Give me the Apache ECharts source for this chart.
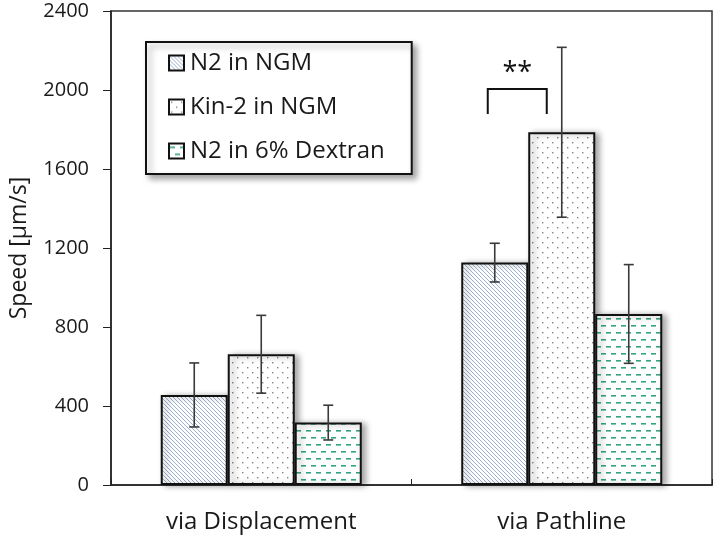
<!DOCTYPE html>
<html>
<head>
<meta charset="utf-8">
<script src="https://cdn.jsdelivr.net/npm/echarts@6/dist/echarts.min.js"></script>
<style>html,body{margin:0;padding:0;background:#fff}#c{width:720px;height:538px}</style>
</head>
<body>
<div id="c"></div>
<script>
// ---- data ----
var categories = ['via Displacement', 'via Pathline'];
var seriesNames = ['N2 in NGM', 'Kin-2 in NGM', 'N2 in 6% Dextran'];
var n2NGM = [456, 1126];
var n2NGMErr = [162, 98];
var kin2NGM = [662, 1786];
var kin2NGMErr = [197, 430];
var n2Dextran = [316, 866];
var n2DextranErr = [88, 250];
var yTicks = [0, 400, 800, 1200, 1600, 2000, 2400];
// significance bracket: [category index, series A, series B, top value, leg bottom value, label]
var sigBracket = [[1, 0, 1, 2005, 1878, '**']];

// ---- patterns ----
function makeTile(w, h, draw) {
  var c = document.createElement('canvas');
  c.width = w; c.height = h;
  var ctx = c.getContext('2d');
  ctx.fillStyle = '#ffffff';
  ctx.fillRect(0, 0, w, h);
  draw(ctx);
  return { image: c, repeat: 'repeat' };
}
var hatch = makeTile(8, 8, function (ctx) {
  ctx.strokeStyle = '#93a7c6';
  ctx.lineWidth = 0.9;
  for (var k = -2; k <= 2; k++) {
    ctx.beginPath();
    ctx.moveTo(k * 4 - 4, -4);
    ctx.lineTo(k * 4 + 12, 12);
    ctx.stroke();
  }
});
var dots = makeTile(10, 10, function (ctx) {
  ctx.fillStyle = '#8c7d80';
  ctx.fillRect(2, 2, 1.4, 1.4);
  ctx.fillRect(7, 7, 1.4, 1.4);
});
var dashes = makeTile(10, 14, function (ctx) {
  ctx.fillStyle = '#33a383';
  ctx.fillRect(1, 3, 5, 1.6);
  ctx.fillRect(6, 10, 4, 1.6);
  ctx.fillRect(0, 10, 1, 1.6);
});
var fills = [hatch, dots, dashes];
var values = [n2NGM, kin2NGM, n2Dextran];
var errs = [n2NGMErr, kin2NGMErr, n2DextranErr];

var BAR_W = 67;
var FONT = '"Open Sans", sans-serif';
var TXT = '#1a1a1a';

var series = [];
seriesNames.forEach(function (name, i) {
  series.push({
    name: name,
    type: 'bar',
    barWidth: BAR_W,
    barGap: '0%',
    data: values[i],
    itemStyle: {
      color: fills[i],
      borderColor: '#111',
      borderWidth: 2,
      shadowColor: 'rgba(0,0,0,0.35)',
      shadowBlur: 6,
      shadowOffsetX: 4,
      shadowOffsetY: 1
    },
    emphasis: { disabled: true },
    z: 2
  });
});

// error bars
var errData = [];
values.forEach(function (vals, si) {
  vals.forEach(function (v, ci) {
    errData.push([ci, v - errs[si][ci], v + errs[si][ci], si]);
  });
});
series.push({
  type: 'custom',
  name: 'err',
  data: errData,
  z: 5,
  silent: true,
  renderItem: function (params, api) {
    var ci = api.value(0), lo = api.value(1), hi = api.value(2), si = api.value(3);
    var off = (si - 1) * BAR_W;
    var pLo = api.coord([ci, lo]);
    var pHi = api.coord([ci, hi]);
    var x = pLo[0] + off;
    var st = { stroke: '#3a3a3a', lineWidth: 1.6 };
    return {
      type: 'group',
      children: [
        { type: 'line', shape: { x1: x, y1: pLo[1], x2: x, y2: pHi[1] }, style: st },
        { type: 'line', shape: { x1: x - 5, y1: pLo[1], x2: x + 5, y2: pLo[1] }, style: st },
        { type: 'line', shape: { x1: x - 5, y1: pHi[1], x2: x + 5, y2: pHi[1] }, style: st }
      ]
    };
  }
});

// significance bracket
series.push({
  type: 'custom',
  name: 'sig',
  data: sigBracket.map(function (d) { return d.slice(0, 5); }),
  z: 6,
  silent: true,
  renderItem: function (params, api) {
    var ci = api.value(0), a = api.value(1), b = api.value(2), top = api.value(3), bot = api.value(4);
    var pTop = api.coord([ci, top]);
    var pBot = api.coord([ci, bot]);
    var xa = pTop[0] + (a - 1) * BAR_W - 7;
    var xb = pTop[0] + (b - 1) * BAR_W - 15;
    var st = { stroke: '#111', lineWidth: 2, fill: null };
    return {
      type: 'group',
      children: [
        { type: 'polyline', shape: { points: [[xa, pBot[1]], [xa, pTop[1]], [xb, pTop[1]], [xb, pBot[1]]] }, style: st },
        { type: 'text', style: { text: sigBracket[params.dataIndex][5], x: (xa + xb) / 2, y: pTop[1] - 2, align: 'center', verticalAlign: 'bottom', font: '27px ' + FONT, fill: '#111' } }
      ]
    };
  }
});

var chart = echarts.init(document.getElementById('c'), null, { renderer: 'canvas' });
chart.setOption({
  animation: false,
  backgroundColor: '#fff',
  grid: {
    left: 111, right: 8, top: 11, bottom: 53,
    show: true, borderColor: '#333', borderWidth: 1.5, backgroundColor: 'transparent'
  },
  legend: {
    data: seriesNames,
    orient: 'vertical',
    left: 146, top: 42,
    padding: [9, 27, 11, 22],
    itemGap: 20,
    itemWidth: 15, itemHeight: 15,
    icon: 'rect',
    backgroundColor: '#fff',
    borderColor: '#111', borderWidth: 2,
    shadowColor: 'rgba(0,0,0,0.35)', shadowBlur: 6, shadowOffsetX: 4, shadowOffsetY: 4,
    textStyle: { fontFamily: FONT, fontSize: 24, color: TXT, padding: [0, 0, 0, 1] },
    selectedMode: false
  },
  xAxis: {
    type: 'category',
    data: categories,
    axisLine: { lineStyle: { color: '#222', width: 1.5 } },
    axisTick: { show: true, inside: true, length: 6, alignWithLabel: false, lineStyle: { color: '#222' } },
    axisLabel: { fontFamily: FONT, fontSize: 24, color: TXT, margin: 25 },
    splitLine: { show: false }
  },
  yAxis: {
    type: 'value',
    min: yTicks[0], max: yTicks[yTicks.length - 1], interval: yTicks[1] - yTicks[0],
    name: 'Speed [µm/s]',
    nameLocation: 'middle',
    nameGap: 80,
    nameTextStyle: { fontFamily: FONT, fontSize: 23, color: TXT },
    axisLine: { show: true, lineStyle: { color: '#222', width: 1.5 } },
    axisTick: { show: true, inside: false, length: 8, lineStyle: { color: '#222' } },
    axisLabel: { fontFamily: FONT, fontSize: 20, color: TXT, margin: 22, formatter: function (v) { return String(v); } },
    splitLine: { show: false }
  },
  series: series
});
</script>
</body>
</html>
